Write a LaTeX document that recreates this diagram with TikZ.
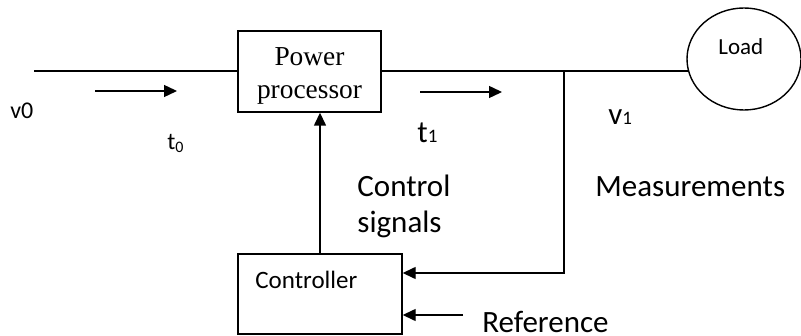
\documentclass[tikz,border=0pt]{standalone}
\usepackage{fontspec}
\setmainfont{Carlito}
\newfontfamily\timesfont{Liberation Serif}
\usetikzlibrary{arrows.meta,positioning,calc,shapes.geometric}
\newcommand{\lowone}{{\fontsize{9.5}{10}\selectfont 1}}

\begin{document}
\begin{tikzpicture}[
  x=0.5pt, y=-0.5pt,
  box/.style={draw, line width=0.7pt, inner sep=0pt},
  lbl/.style={inner sep=0pt, anchor=base west, font=\fontsize{15.5}{17.5}\selectfont},
  lblsmall/.style={inner sep=0pt, anchor=base west, font=\fontsize{12}{14}\selectfont},
  wire/.style={line width=0.7pt},
  flow/.style={-{Triangle[length=6.5pt, width=6pt]}, line width=0.7pt}
]
\useasboundingbox (0,0) rectangle (801,336);

% blocks
\node[box, minimum width=71.5pt, minimum height=40.5pt] (pp) at (309.5,71.5) {};
\node[inner sep=0pt, align=center, font=\timesfont\fontsize{13.7}{16.5}\selectfont] (pptxt) at (309.5,75.5) {Power\\processor};
\node[box, minimum width=82pt, minimum height=40pt] (ctrl) at (320,294) {};
\node[lblsmall, font=\fontsize{12.5}{14}\selectfont] (ctrltxt) at (255,288) {Controller};
\node[box, ellipse, minimum width=57pt, minimum height=51pt] (load) at (744,59) {};
\node[lblsmall, font=\fontsize{11.5}{14}\selectfont] (loadtxt) at (718,55) {Load};

% wiring
\coordinate (src) at (34,71);
\coordinate (tap) at (564,71);
\coordinate (refin) at (463,315);
\draw[wire] (src) -- (src -| pp.west);
\draw[wire] (tap -| pp.east) -- (tap) -- ($(tap -| load.west)+(1.6,0)$);
\draw[flow] (tap) |- ([yshift=10.5pt]ctrl.east);
\draw[flow] (refin) -- ([yshift=-10.5pt]ctrl.east);
\draw[flow] (ctrl.north) -- (ctrl.north |- pp.south);

% power flow arrows
\coordinate (f0a) at (95,91);
\coordinate (f0b) at (177,91);
\coordinate (f1a) at (420,92);
\coordinate (f1b) at (502,92);
\draw[flow] (f0a) -- (f0b);
\draw[flow] (f1a) -- (f1b);

% labels
\node[lblsmall] (v0) at (10,119) {v0};
\node[lblsmall] (t0) at (167,149) {t\textsubscript{0}};
\node[lbl] (t1) at (417,143) {t\lowone};
\node[lbl] (v1) at (608,125) {v\lowone};
\node[lbl, align=left] (sig) at (357,232) {Control\\signals};
\node[lbl] (meas) at (595,197) {Measurements};
\node[lbl] (ref) at (482,332) {Reference};
\end{tikzpicture}
\end{document}
